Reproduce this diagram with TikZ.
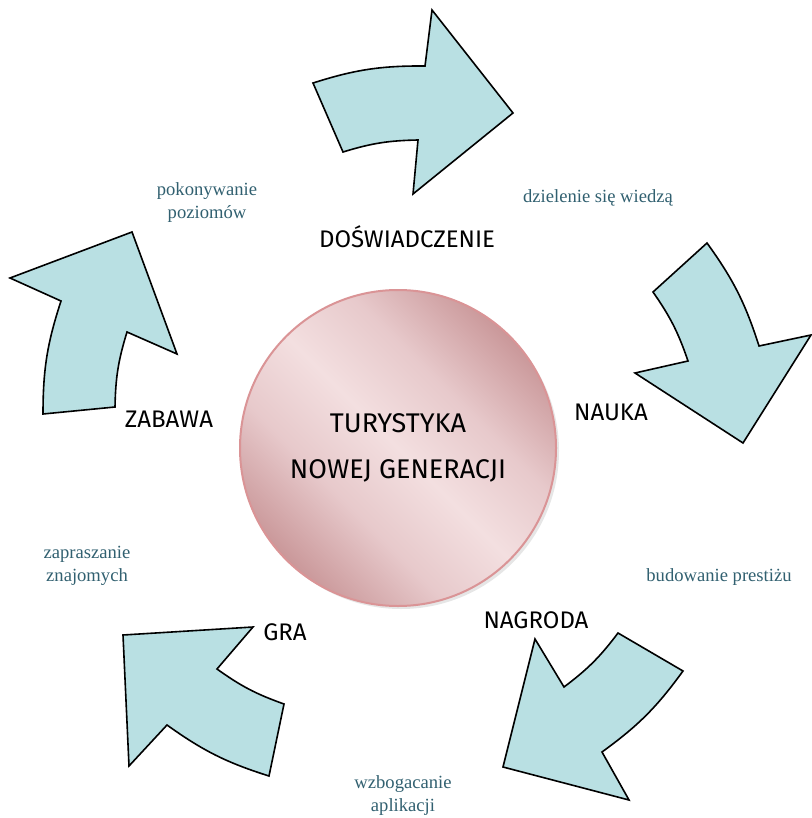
\documentclass[tikz,border=0pt]{standalone}
\usepackage{fontspec}
\setmainfont{Liberation Serif}
\newfontfamily\handfont{Fira Sans}
\usepackage{tikz}
\usetikzlibrary{shadows}
\definecolor{arrowblue}{RGB}{185,224,227}
\definecolor{noteteal}{RGB}{49,96,112}
\definecolor{pinkedge}{RGB}{218,148,150}
\definecolor{pinkdark}{RGB}{202,152,154}
\definecolor{pinkmid}{RGB}{231,201,203}
\definecolor{pinklight}{RGB}{243,223,224}
\pgfdeclarehorizontalshading{pinkglow}{100bp}{color(0bp)=(pinkdark); color(25bp)=(pinkdark); color(38bp)=(pinkmid); color(50bp)=(pinklight); color(62bp)=(pinkmid); color(75bp)=(pinkdark); color(100bp)=(pinkdark)}
\tikzset{
  cyclearrow/.style={draw, fill=arrowblue, line width=0.8pt, line join=miter},
  stage/.style={font=\handfont\fontsize{12}{14}\selectfont, anchor=base},
  note/.style={font=\fontsize{9.3}{11.5}\selectfont, text=noteteal, align=center}
}
\tikzset{core circle/.style={circle, minimum size=158pt, inner sep=0pt, draw=pinkedge, line width=1pt,
  shading=pinkglow, shading angle=45, drop shadow={opacity=0.2, shadow xshift=1.5pt, shadow yshift=-1.5pt},
  align=center, font=\handfont\fontsize{13.5}{23}\selectfont}}

\begin{document}
\begin{tikzpicture}[x=0.5pt, y=-0.5pt]
\useasboundingbox (0,0) rectangle (811,818);

\draw[cyclearrow] (313,83) to[bend left=9] (425,66) -- (432,10) -- (513,113) -- (413,194) -- (418,140) to[bend right=8] (343,152) -- cycle;
\draw[cyclearrow] (707,243) to[bend left=9] (759,346) -- (811,335) -- (743,443) -- (635,373) -- (688,361) to[bend right=8] (653,292) -- cycle;
\draw[cyclearrow] (683,671) to[bend left=9] (602,752) -- (629,800) -- (503,767) -- (535,639) -- (564,687) to[bend right=8] (618,633) -- cycle;
\draw[cyclearrow] (269,776) to[bend left=9] (167,725) -- (129,766) -- (123,635) -- (253,627) -- (217,669) to[bend right=8] (284,704) -- cycle;
\draw[cyclearrow] (43,414) to[bend left=9] (61,301) -- (10,278) -- (132,232) -- (177,354) -- (127,332) to[bend right=8] (115,407) -- cycle;

\node[core circle] (core) at (398,448) {TURYSTYKA\\NOWEJ GENERACJI};

\node[stage] (exp) at (407,248) {DOŚWIADCZENIE};
\node[stage] (learn) at (611,420) {NAUKA};
\node[stage] (reward) at (536,628) {NAGRODA};
\node[stage] (game) at (285,640) {GRA};
\node[stage] (fun) at (169,427) {ZABAWA};

\node[note] (levels) at (207,203) {pokonywanie\\poziomów};
\node[note] (share) at (598,198) {dzielenie się wiedzą};
\node[note] (prestige) at (719,577) {budowanie prestiżu};
\node[note] (enrich) at (403,796) {wzbogacanie\\aplikacji};
\node[note] (invite) at (87,566) {zapraszanie\\znajomych};
\end{tikzpicture}
\end{document}
